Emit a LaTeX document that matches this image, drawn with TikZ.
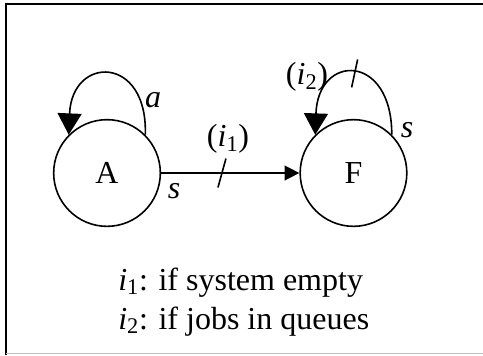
\documentclass[tikz,border=0pt]{standalone}
\usepackage{fontspec}
\setmainfont{Liberation Serif}
\usetikzlibrary{arrows.meta,calc}
\begin{document}
\begin{tikzpicture}[x=0.75pt,y=-0.75pt,
  state/.style={circle,draw,line width=1.2pt,minimum size=80pt,inner sep=0pt,font=\fontsize{24}{28}\selectfont},
  lbl/.style={font=\fontsize{24}{28}\selectfont\itshape,inner sep=0pt},
  txt/.style={font=\fontsize{24}{28}\selectfont,inner sep=0pt,anchor=base west},
  conn/.style={line width=1.2pt},
  tick/.style={line width=1.2pt},
  bigtip/.style={-{Triangle[length=16pt,width=18pt]}},
  smalltip/.style={-{Triangle[length=11pt,width=11pt]}}]
\useasboundingbox (0,0) rectangle (483,355);
% frame
\draw[line width=1.5pt] (6,355) -- (6,4.3) -- (483,4.3);
\draw[line width=0.8pt,black!25] (6,353.5) -- (483,353.5);
% states
\node[state] (A) at (107,173) {A};
\node[state] (F) at (353.5,173) {F};
% loop on A
\draw[conn,bigtip] (A.45) .. controls (148,55) and (72,55) .. (A.135);
% loop on F
\draw[conn,bigtip] (F.45) .. controls (392,53) and (318,53) .. (F.135)
  coordinate[pos=0.5] (t2);
\draw[tick] ($(t2)+(3,-14)$) -- ($(t2)+(-3,14)$);
% straight edge
\draw[conn,smalltip] (A.east) -- (F.west) coordinate[pos=0.44] (t1);
\draw[tick] ($(t1)+(4,-14.5)$) -- ($(t1)+(-4,14.5)$);
% labels
\node[lbl] (la) at (153,100) {a};
\node[lbl] (ls1) at (174,191) {s};
\node[lbl] (ls2) at (407,130) {s};
\node[inner sep=0pt,font=\fontsize{24}{28}\selectfont] (li1) at (228,139) {(\textit{i}\textsubscript{1})};
\node[inner sep=0pt,font=\fontsize{24}{28}\selectfont] (li2) at (307,77) {(\textit{i}\textsubscript{2})};
% legend
\node[txt] (leg1) at (118,290) {\textit{i}\textsubscript{1}: if system empty};
\node[txt] (leg2) at (118,329) {\textit{i}\textsubscript{2}: if jobs in queues};
\end{tikzpicture}
\end{document}
